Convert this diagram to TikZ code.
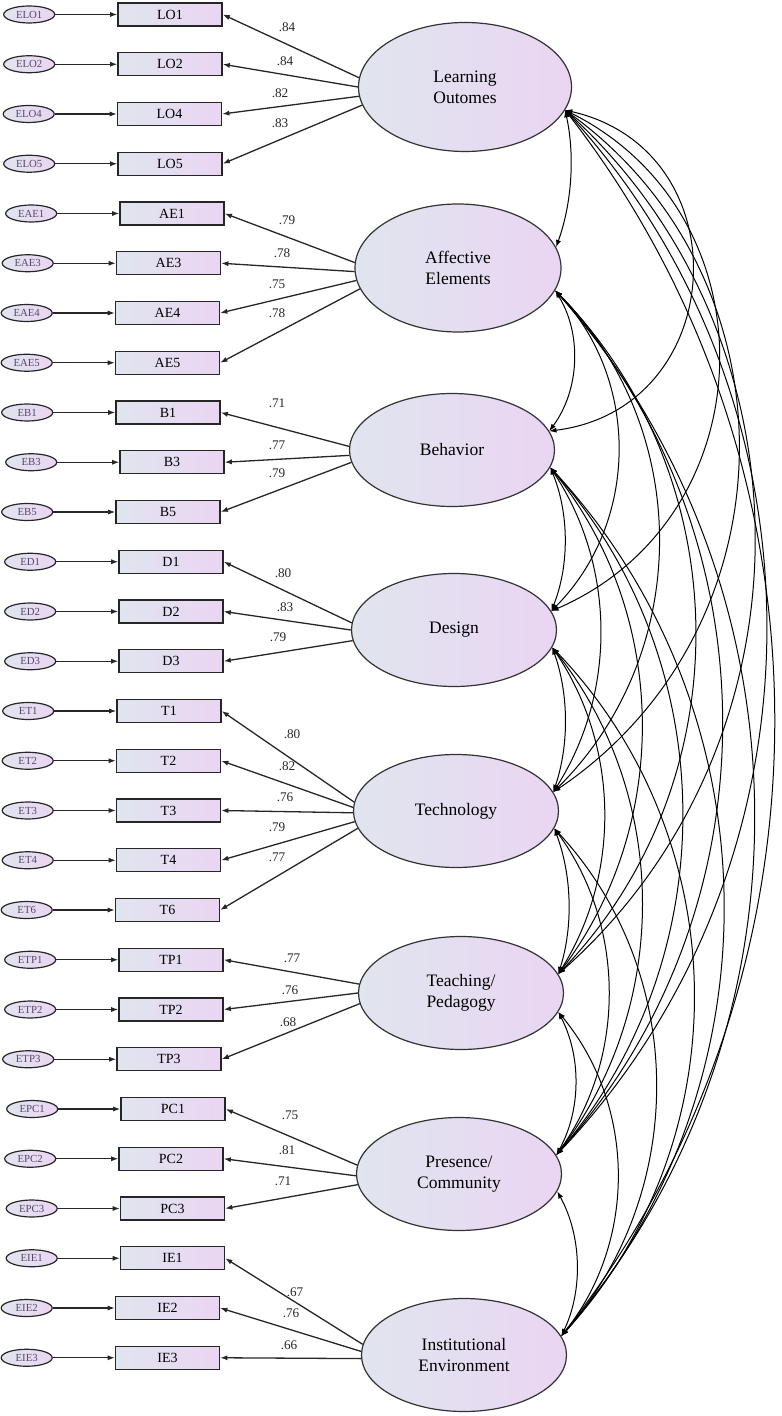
\documentclass[tikz,border=0pt]{standalone}
\usepackage{fontspec}
\setmainfont{Liberation Serif}
\usepackage{xcolor}
\usepackage{tikz}
\usetikzlibrary{shapes,arrows,positioning,calc,arrows.meta}
\definecolor{fillL}{RGB}{224,229,238}
\definecolor{fillR}{RGB}{234,213,243}
\definecolor{errtext}{RGB}{85,72,105}

\begin{document}
\begin{tikzpicture}[x=0.5pt, y=-0.5pt,
        latent/.style={draw=black!80, ellipse, line width=0.6pt, minimum width=102.5pt, minimum height=56.5pt, inner sep=0pt, align=center, left color=fillL, right color=fillR, font=\fontsize{8.75}{10.5}\selectfont},
        ind/.style={draw=black!85, rectangle, line width=0.7pt, minimum width=52pt, minimum height=11.5pt, inner sep=0pt, left color=fillL, right color=fillR, font=\fontsize{7}{8}\selectfont},
        err/.style={draw=black!85, ellipse, line width=0.6pt, minimum width=25.5pt, minimum height=8.5pt, inner sep=0pt, left color=fillL, right color=fillR, text=errtext, font=\fontsize{5.4}{6}\selectfont},
        load/.style={font=\fontsize{6.6}{7.5}\selectfont, text=black!85, inner sep=0pt},
        path/.style={->, line width=0.65pt, black!85},
        cov/.style={<->, line width=0.5pt},
        >={Latex[length=3.6pt,width=2.6pt]}
    ]
        \useasboundingbox (0,0) rectangle (781,1416);

        \node [latent, minimum width=106.5pt, minimum height=64.5pt] (LO) at (465,87) {Learning\\Outomes};
        \node [latent, minimum width=103pt, minimum height=64pt] (AE) at (458,268) {Affective\\Elements};
        \node [latent] (B) at (452,450) {Behavior};
        \node [latent] (D) at (454,630) {Design};
        \node [latent] (T) at (456,811) {Technology};
        \node [latent] (TP) at (461,993) {Teaching/\\Pedagogy};
        \node [latent] (PC) at (459,1174) {Presence/\\Community};
        \node [latent] (IE) at (464,1355) {Institutional\\Environment};

        \node [ind] (LO1) at (170,14.5) {LO1};
        \node [ind] (LO2) at (170,64.25) {LO2};
        \node [ind] (LO4) at (169.5,114) {LO4};
        \node [ind] (LO5) at (170,163.75) {LO5};
        \node [ind] (AE1) at (172,213.5) {AE1};
        \node [ind] (AE3) at (168.5,263.25) {AE3};
        \node [ind] (AE4) at (167.5,313) {AE4};
        \node [ind] (AE5) at (167.5,362.75) {AE5};
        \node [ind] (B1) at (168,412.5) {B1};
        \node [ind] (B3) at (172,462.25) {B3};
        \node [ind] (B5) at (168,512) {B5};
        \node [ind] (D1) at (171,561.75) {D1};
        \node [ind] (D2) at (171,611.5) {D2};
        \node [ind] (D3) at (171,661.25) {D3};
        \node [ind] (T1) at (169,711) {T1};
        \node [ind] (T2) at (168.5,760.75) {T2};
        \node [ind] (T3) at (168.5,810.5) {T3};
        \node [ind] (T4) at (168.5,860.25) {T4};
        \node [ind] (T6) at (167.5,910) {T6};
        \node [ind] (TP1) at (171,959.75) {TP1};
        \node [ind] (TP2) at (171,1009.5) {TP2};
        \node [ind] (TP3) at (169,1059.25) {TP3};
        \node [ind] (PC1) at (173,1109) {PC1};
        \node [ind] (PC2) at (171,1158.75) {PC2};
        \node [ind] (PC3) at (172.5,1208.5) {PC3};
        \node [ind] (IE1) at (172.5,1258.25) {IE1};
        \node [ind] (IE2) at (167.5,1308) {IE2};
        \node [ind] (IE3) at (167.5,1357.75) {IE3};

        \node [err, left=31pt of LO1] (eLO1) {ELO1};
        \node [err, left=31pt of LO2] (eLO2) {ELO2};
        \node [err, left=31pt of LO4] (eLO4) {ELO4};
        \node [err, left=31pt of LO5] (eLO5) {ELO5};
        \node [err, left=31pt of AE1] (eAE1) {EAE1};
        \node [err, left=31pt of AE3] (eAE3) {EAE3};
        \node [err, left=31pt of AE4] (eAE4) {EAE4};
        \node [err, left=31pt of AE5] (eAE5) {EAE5};
        \node [err, left=31pt of B1] (eB1) {EB1};
        \node [err, left=31pt of B3] (eB3) {EB3};
        \node [err, left=31pt of B5] (eB5) {EB5};
        \node [err, left=31pt of D1] (eD1) {ED1};
        \node [err, left=31pt of D2] (eD2) {ED2};
        \node [err, left=31pt of D3] (eD3) {ED3};
        \node [err, left=31pt of T1] (eT1) {ET1};
        \node [err, left=31pt of T2] (eT2) {ET2};
        \node [err, left=31pt of T3] (eT3) {ET3};
        \node [err, left=31pt of T4] (eT4) {ET4};
        \node [err, left=31pt of T6] (eT6) {ET6};
        \node [err, left=31pt of TP1] (eTP1) {ETP1};
        \node [err, left=31pt of TP2] (eTP2) {ETP2};
        \node [err, left=31pt of TP3] (eTP3) {ETP3};
        \node [err, left=31pt of PC1] (ePC1) {EPC1};
        \node [err, left=31pt of PC2] (ePC2) {EPC2};
        \node [err, left=31pt of PC3] (ePC3) {EPC3};
        \node [err, left=31pt of IE1] (eIE1) {EIE1};
        \node [err, left=31pt of IE2] (eIE2) {EIE2};
        \node [err, left=31pt of IE3] (eIE3) {EIE3};

        \foreach \i in {LO1,LO2,LO4,LO5,AE1,AE3,AE4,AE5,B1,B3,B5,D1,D2,D3,T1,T2,T3,T4,T6,TP1,TP2,TP3,PC1,PC2,PC3,IE1,IE2,IE3}
            \draw [path] (e\i) -- (\i);

        \draw [path] (LO.175) -- (LO1.east);
        \draw [path] (LO.180) -- (LO2.east);
        \draw [path] (LO.185) -- (LO4.east);
        \draw [path] (LO.190) -- (LO5.east);
        \draw [path] (AE.177) -- (AE1.east);
        \draw [path] (AE.182) -- (AE3.east);
        \draw [path] (AE.187) -- (AE4.east);
        \draw [path] (AE.192) -- (AE5.east);
        \draw [path] (B.178) -- (B1.east);
        \draw [path] (B.183) -- (B3.east);
        \draw [path] (B.187) -- (B5.east);
        \draw [path] (D.176) -- (D1.east);
        \draw [path] (D.180) -- (D2.east);
        \draw [path] (D.186) -- (D3.east);
        \draw [path] (T.175) -- (T1.east);
        \draw [path] (T.178) -- (T2.east);
        \draw [path] (T.181) -- (T3.east);
        \draw [path] (T.186) -- (T4.east);
        \draw [path] (T.190) -- (T6.east);
        \draw [path] (TP.175) -- (TP1.east);
        \draw [path] (TP.180) -- (TP2.east);
        \draw [path] (TP.186) -- (TP3.east);
        \draw [path] (PC.175) -- (PC1.east);
        \draw [path] (PC.181) -- (PC2.east);
        \draw [path] (PC.186) -- (PC3.east);
        \draw [path] (IE.174) -- (IE1.east);
        \draw [path] (IE.178) -- (IE2.east);
        \draw [path] (IE.182) -- (IE3.east);

        \node [load] (wLO1) at (287,27) {.84};
        \node [load] (wLO2) at (285,61) {.84};
        \node [load] (wLO4) at (280,93) {.82};
        \node [load] (wLO5) at (280,123) {.83};
        \node [load] (wAE1) at (287,220) {.79};
        \node [load] (wAE3) at (282,253) {.78};
        \node [load] (wAE4) at (277,284) {.75};
        \node [load] (wAE5) at (277,313) {.78};
        \node [load] (wB1) at (277,403) {.71};
        \node [load] (wB3) at (277,445) {.77};
        \node [load] (wB5) at (277,473) {.79};
        \node [load] (wD1) at (283,573) {.80};
        \node [load] (wD2) at (285,607) {.83};
        \node [load] (wD3) at (278,637) {.79};
        \node [load] (wT1) at (292,734) {.80};
        \node [load] (wT2) at (287,766) {.82};
        \node [load] (wT3) at (285,797) {.76};
        \node [load] (wT4) at (277,827) {.79};
        \node [load] (wT6) at (277,857) {.77};
        \node [load] (wTP1) at (292,958) {.77};
        \node [load] (wTP2) at (290,990) {.76};
        \node [load] (wTP3) at (288,1022) {.68};
        \node [load] (wPC1) at (290,1115) {.75};
        \node [load] (wPC2) at (287,1150) {.81};
        \node [load] (wPC3) at (283,1181) {.71};
        \node [load] (wIE1) at (295,1292) {.67};
        \node [load] (wIE2) at (291,1313) {.76};
        \node [load] (wIE3) at (289,1345) {.66};

        \draw [cov] (LO.347) to[bend left=16, looseness=0.87] (AE.12);
        \draw [cov] (LO.347) to[bend left=80, looseness=1.45] (B.11);
        \draw [cov] (LO.347) to[bend left=65, looseness=1.2] (D.11);
        \draw [cov] (LO.347) to[bend left=55, looseness=1.09] (T.11);
        \draw [cov] (LO.347) to[bend left=48, looseness=1.02] (TP.11);
        \draw [cov] (LO.347) to[bend left=43, looseness=0.98] (PC.11);
        \draw [cov] (LO.347) to[bend left=38, looseness=0.95] (IE.11);
        \draw [cov] (AE.347) to[bend left=34, looseness=0.93] (B.11);
        \draw [cov] (AE.347) to[bend left=44, looseness=0.99] (D.11);
        \draw [cov] (AE.347) to[bend left=45, looseness=1.0] (T.11);
        \draw [cov] (AE.347) to[bend left=44, looseness=0.99] (TP.11);
        \draw [cov] (AE.347) to[bend left=42, looseness=0.98] (PC.11);
        \draw [cov] (AE.347) to[bend left=41, looseness=0.97] (IE.11);
        \draw [cov] (B.350) to[bend left=22, looseness=0.88] (D.11);
        \draw [cov] (B.350) to[bend left=33, looseness=0.93] (T.11);
        \draw [cov] (B.350) to[bend left=38, looseness=0.95] (TP.11);
        \draw [cov] (B.350) to[bend left=41, looseness=0.97] (PC.11);
        \draw [cov] (B.350) to[bend left=42, looseness=0.98] (IE.11);
        \draw [cov] (D.350) to[bend left=19, looseness=0.88] (T.11);
        \draw [cov] (D.350) to[bend left=33, looseness=0.93] (TP.11);
        \draw [cov] (D.350) to[bend left=38, looseness=0.95] (PC.11);
        \draw [cov] (D.350) to[bend left=43, looseness=0.99] (IE.11);
        \draw [cov] (T.350) to[bend left=19, looseness=0.88] (TP.11);
        \draw [cov] (T.350) to[bend left=36, looseness=0.94] (PC.11);
        \draw [cov] (T.350) to[bend left=42, looseness=0.98] (IE.11);
        \draw [cov] (TP.349) to[bend left=28, looseness=0.91] (PC.11);
        \draw [cov] (TP.349) to[bend left=39, looseness=0.96] (IE.11);
        \draw [cov] (PC.350) to[bend left=27, looseness=0.9] (IE.11);
    \end{tikzpicture}
\end{document}
